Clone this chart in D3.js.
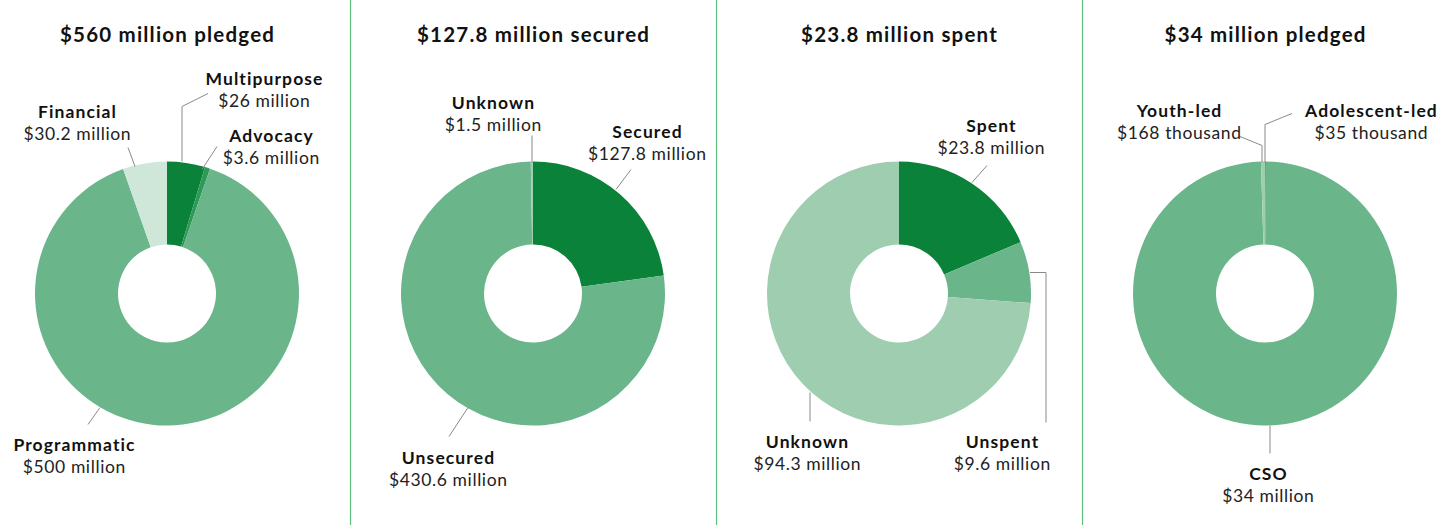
<!DOCTYPE html>
<html>
<head>
<meta charset="utf-8">
<script src="https://cdn.jsdelivr.net/npm/d3@7"></script>
<style>
  html, body { margin: 0; padding: 0; background: #fff; }
  svg { display: block; }
  text { font-family: Lato, "Open Sans", sans-serif; fill: #111; }
</style>
</head>
<body>
<svg id="chart" width="1456" height="525"></svg>
<script>
// ---------- DATA ----------
const panelTitles = ["$560 million pledged", "$127.8 million secured", "$23.8 million spent", "$34 million pledged"];

const p1Categories = ["Multipurpose", "Advocacy", "Programmatic", "Financial"];
const p1Values = [26, 3.6, 500, 30.2];
const p1ValueLabels = ["$26 million", "$3.6 million", "$500 million", "$30.2 million"];

const p2Categories = ["Secured", "Unsecured", "Unknown"];
const p2Values = [127.8, 430.6, 1.5];
const p2ValueLabels = ["$127.8 million", "$430.6 million", "$1.5 million"];

const p3Categories = ["Spent", "Unspent", "Unknown"];
const p3Values = [23.8, 9.6, 94.3];
const p3ValueLabels = ["$23.8 million", "$9.6 million", "$94.3 million"];

const p4Categories = ["Adolescent-led", "CSO", "Youth-led"];
const p4Values = [0.035, 34, 0.168];
const p4ValueLabels = ["$35 thousand", "$34 million", "$168 thousand"];

// ---------- STYLE / LAYOUT ----------
const colorMap = {
  "Multipurpose": "#0a8239", "Advocacy": "#2e9a58", "Programmatic": "#6bb58a", "Financial": "#cfe7d9",
  "Secured": "#0a8239", "Unsecured": "#6bb58a", "Unknown": "#9ecdb0",
  "Spent": "#0a8239", "Unspent": "#6bb58a",
  "Adolescent-led": "#2e9a58", "CSO": "#6bb58a", "Youth-led": "#9ecdb0"
};

// label placement relative to donut centre: [x, boldBaseline, leader polyline]
const labelLayouts = [
  [
    {x: 97, y: -209, leader: [[15, -132], [15, -187], [41, -200]]},
    {x: 104, y: -152, leader: [[35, -124], [50, -147]]},
    {x: -93, y: 157, leader: [[-67, 114], [-79, 131]]},
    {x: -90, y: -176, leader: [[-32, -127], [-39, -146]]}
  ],
  [
    {x: 114, y: -156, leader: [[98, -124], [83, -104]]},
    {x: -85, y: 170, leader: [[-65, 114], [-84, 143]]},
    {x: -40, y: -185, leader: [[-1, -131], [-1, -158]]}
  ],
  [
    {x: 92, y: -162, leader: [[88, -128], [73, -111]]},
    {x: 103, y: 154, leader: [[131, -21], [147, -21], [147, 129]]},
    {x: -92, y: 154, leader: [[-89, 99], [-89, 128]]}
  ],
  [
    {x: 106, y: -177, leader: [[0, -131], [0, -169], [27, -180]]},
    {x: 3, y: 186, leader: [[5, 132], [5, 160]]},
    {x: -86, y: -177, leader: [[-3, -131], [-3, -148], [-25, -157]]}
  ]
];

const panels = [
  {cats: p1Categories, vals: p1Values, vlabels: p1ValueLabels},
  {cats: p2Categories, vals: p2Values, vlabels: p2ValueLabels},
  {cats: p3Categories, vals: p3Values, vlabels: p3ValueLabels},
  {cats: p4Categories, vals: p4Values, vlabels: p4ValueLabels}
];

const W = 1456, H = 525;
const cy = 293.5;
const outerR = 132, innerR = 49;

const svg = d3.select("#chart");

const xPanel = d3.scaleBand().domain(d3.range(panels.length)).range([-16, -16 + 366 * 4]).paddingInner(0).paddingOuter(0);

// separators
[1, 2, 3].forEach(i => {
  const x = Math.round(xPanel(i)) + 0.5;
  svg.append("line").attr("x1", x).attr("x2", x).attr("y1", 0).attr("y2", H)
    .attr("stroke", "#5fbf7c").attr("stroke-width", 1.2);
});

const pie = d3.pie().sort(null).value(d => d.v).startAngle(0).endAngle(2 * Math.PI);
const arc = d3.arc().innerRadius(innerR).outerRadius(outerR);
const lineGen = d3.line();

panels.forEach((p, i) => {
  const cx = xPanel(i) + xPanel.bandwidth() / 2;
  const g = svg.append("g").attr("transform", `translate(${cx},${cy})`);

  svg.append("text").attr("x", cx + 0.6).attr("y", 42).attr("text-anchor", "middle")
    .style("font-size", "20.5px").style("font-weight", 700).style("letter-spacing", "1.2px")
    .text(panelTitles[i]);

  const data = p.cats.map((c, k) => ({c, v: p.vals[k], lbl: p.vlabels[k]}));
  const arcs = pie(data);

  g.selectAll("path.slice").data(arcs).join("path")
    .attr("class", "slice")
    .attr("d", arc)
    .attr("fill", d => colorMap[d.data.c])
    .attr("stroke", "none");

  // leaders and labels
  arcs.forEach((a, k) => {
    const L = labelLayouts[i][k];
    g.append("path").attr("d", lineGen(L.leader)).attr("fill", "none")
      .attr("stroke", "#8a8a8a").attr("stroke-width", 1);
    g.append("text").attr("x", L.x + 0.5).attr("y", L.y).attr("text-anchor", "middle")
      .style("font-size", "17.5px").style("font-weight", 700).style("letter-spacing", "1.1px")
      .text(a.data.c);
    g.append("text").attr("x", L.x + 0.3).attr("y", L.y + 22).attr("text-anchor", "middle")
      .style("font-size", "17.5px").style("font-weight", 400).style("letter-spacing", "0.6px")
      .style("fill", "#222").text(a.data.lbl);
  });
});
</script>
</body>
</html>
